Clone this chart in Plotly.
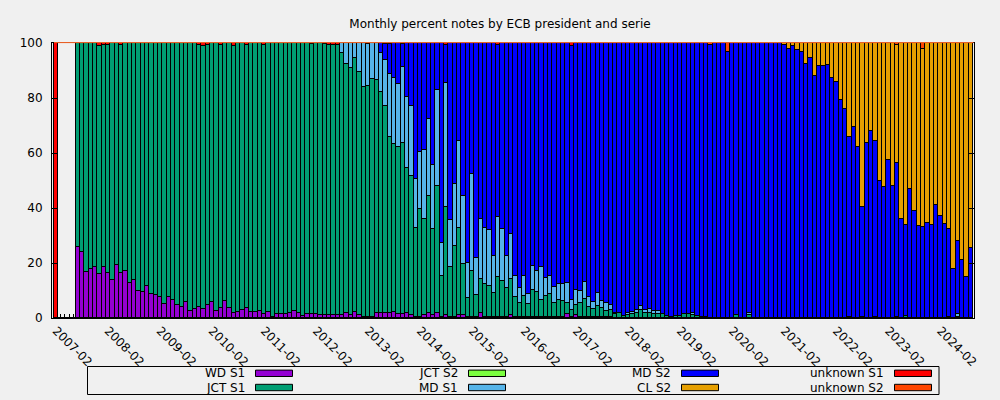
import plotly.graph_objects as go
import pandas as pd

# ---------------- data (one value per month, 2007-02 .. 2024-09) ----------------
MONTHS = list(pd.period_range("2007-02", periods=212, freq="M").strftime("%Y-%m"))
TICK_LABELS = [m if i % 12 == 0 else "" for i, m in enumerate(MONTHS)]

WD_S1 = [
    0, 0, 0, 0, 0, 25.9, 23.9, 16.6, 17.7, 18.7, 15.9, 18.4,
    16.2, 13.8, 19.2, 16.2, 17.0, 12.6, 13.8, 9.7, 9.3, 11.5, 8.6, 8.2,
    7.5, 5.0, 7.5, 6.4, 4.6, 3.9, 5.7, 2.4, 3.2, 3.9, 3.2, 4.6,
    5.7, 2.4, 3.5, 6.1, 3.5, 1.7, 2.1, 2.9, 3.5, 2.1, 2.1, 2.7,
    1.3, 2.1, 0.3, 1.5, 1.5, 1.5, 1.7, 2.7, 1.7, 0.7, 1.5, 1.5,
    1.5, 1.0, 1.0, 1.0, 1.0, 1.0, 1.0, 1.7, 1.0, 2.2, 1.0, 0.5,
    0.5, 0.5, 1.7, 1.9, 1.7, 1.7, 2.2, 1.5, 1.5, 1.7, 1.2, 0.2,
    0.5, 1.0, 1.7, 1.0, 1.7, 0.5, 1.0, 0.3, 0.3, 1.0, 1.0, 0.5,
    0.5, 0.2, 1.7, 0.2, 0.2, 0.2, 0.5, 0.5, 0.2, 1.0, 0.2, 0.3,
    0.2, 0.3, 0.3, 0.3, 0.2, 0.4, 0.3, 0.2, 0.3, 0.2, 1.3, 0.2,
    1.0, 0.2, 0.5, 0.2, 0.2, 0.2, 0.2, 0.2, 0.2, 0, 0, 0,
    0, 0, 0, 0, 0, 0, 0, 0, 0, 0, 0, 0,
    0, 0, 0, 0, 0, 0, 0, 0, 0, 0, 0, 0,
    0, 0, 0, 0, 0, 0, 0, 0, 0, 0, 0, 0,
    0, 0, 0, 0, 0, 0, 0, 0, 0, 0, 0, 0,
    0, 0, 0, 0, 0, 0, 0, 0, 0, 0, 0, 0,
    0, 0, 0, 0, 0, 0, 0, 0, 0, 0, 0, 0,
    0, 0, 0, 0, 0, 0, 0, 0,
]

JCT_S1 = [
    0, 0, 0, 0, 0, 74.1, 76.1, 83.4, 82.3, 81.3, 83.0, 80.9,
    83.1, 86.2, 80.8, 83.0, 83.0, 87.4, 86.2, 90.3, 90.7, 88.5, 91.4, 91.8,
    92.5, 95.0, 92.5, 93.6, 95.4, 96.1, 94.3, 97.6, 96.8, 95.3, 95.7, 94.7,
    94.3, 97.6, 95.7, 93.9, 96.5, 97.3, 97.9, 97.1, 95.8, 97.9, 97.9, 97.3,
    98.0, 97.9, 99.7, 98.5, 98.5, 98.5, 98.3, 97.3, 98.3, 99.3, 98.5, 98.0,
    98.5, 99.0, 98.6, 98.3, 98.4, 98.2, 95.2, 90.7, 89.8, 92.2, 88.3, 83.4,
    83.7, 86.3, 84.7, 80.3, 75.3, 64.1, 61.1, 60.7, 62.0, 52.7, 50.3, 32.4,
    39.0, 34.9, 42.5, 31.2, 46.2, 14.7, 39.2, 18.1, 25.8, 31.6, 18.5, 6.7,
    16.5, 8.0, 12.4, 12.0, 11.3, 8.8, 14.3, 12.8, 10.6, 13.1, 7.3, 5.0,
    7.7, 4.7, 9.8, 9.0, 6.2, 7.5, 8.3, 5.1, 6.1, 5.9, 4.0, 2.6,
    3.6, 5.1, 6.3, 3.7, 3.0, 4.0, 3.3, 2.2, 2.6, 1.5, 2.0, 0.7,
    1.1, 1.5, 1.7, 2.9, 1.9, 1.7, 1.5, 1.5, 1.5, 0.7, 0.5, 0.7,
    0.7, 1.5, 1.5, 1.1, 0.7, 0.5, 0.3, 0, 0, 0, 0, 0,
    0, 1.1, 0, 0, 1.1, 0, 0, 0, 0, 0, 0, 0,
    0, 0, 0, 0, 0, 0, 0, 0, 0, 0, 0, 0,
    0, 0, 0, 0.5, 0, 0, 0.5, 0, 0, 0.5, 0, 0,
    0, 0, 0.5, 0, 0.7, 0, 0, 0, 0, 0, 0, 0,
    0, 0, 0.5, 0, 0.3, 0, 0, 0,
]

JCT_S2 = [
    0, 0, 0, 0, 0, 0, 0, 0, 0, 0, 0, 0,
    0, 0, 0, 0, 0, 0, 0, 0, 0, 0, 0, 0,
    0, 0, 0, 0, 0, 0, 0, 0, 0, 0, 0, 0,
    0, 0, 0, 0, 0, 0, 0, 0, 0, 0, 0, 0,
    0, 0, 0, 0, 0, 0, 0, 0, 0, 0, 0, 0,
    0, 0, 0, 0, 0, 0, 0, 0, 0, 0, 0, 0,
    0, 0, 0, 0, 0, 0, 0, 0, 0, 0, 0, 0,
    0, 0, 0, 0, 0, 0, 0, 0, 0, 0, 0, 0,
    0, 0, 0, 0, 0, 0, 0, 0, 0, 0, 0, 0,
    0, 0, 0, 0, 0, 0, 0, 0, 0, 0, 0, 0,
    0, 0, 0, 0, 0, 0, 0, 0, 0, 0, 0, 0,
    0, 0, 0, 0, 0, 0, 0, 0, 0, 0, 0, 0,
    0, 0, 0, 0, 0, 0, 0, 0, 0, 0, 0, 0,
    0, 0, 0, 0, 0, 0, 0, 0, 0, 0, 0, 0,
    0, 0, 0, 0, 0, 0, 0, 0, 0, 0, 0, 0,
    0, 0, 0, 0, 0, 0, 0, 0, 0, 0, 0, 0,
    0, 0, 0, 0, 0, 0, 0, 0, 0, 0, 0, 0,
    0, 0, 0, 0, 0, 0, 0, 0,
]

MD_S1 = [
    0, 0, 0, 0, 0, 0, 0, 0, 0, 0, 0, 0,
    0, 0, 0, 0, 0, 0, 0, 0, 0, 0, 0, 0,
    0, 0, 0, 0, 0, 0, 0, 0, 0, 0, 0, 0,
    0, 0, 0, 0, 0, 0, 0, 0, 0, 0, 0, 0,
    0, 0, 0, 0, 0, 0, 0, 0, 0, 0, 0, 0,
    0, 0, 0, 0, 0, 0, 3.8, 7.6, 9.2, 5.6, 10.7, 16.1,
    15.5, 13.2, 13.6, 14.0, 16.7, 22.9, 24.0, 22.9, 27.9, 25.8, 25.5, 17.8,
    20.7, 25.1, 28.0, 23.3, 34.9, 12.0, 45.1, 17.2, 22.6, 31.6, 24.7, 12.7,
    35.4, 13.8, 21.8, 20.4, 20.4, 13.4, 21.8, 18.9, 11.6, 16.3, 7.7, 5.6,
    7.3, 3.6, 8.7, 7.7, 12.0, 6.6, 6.6, 5.9, 5.8, 6.1, 7.3, 3.6,
    5.5, 4.4, 6.2, 3.6, 2.5, 4.8, 2.6, 2.9, 1.8, 0.5, 0, 0,
    0.6, 0.6, 1.2, 1.5, 1.0, 1.5, 0.9, 0.9, 0, 0, 0, 0,
    0, 0, 0, 0.6, 0, 0, 0, 0, 0, 0, 0, 0,
    0, 0, 0, 0, 0.6, 0, 0, 0, 0, 0, 0, 0,
    0, 0, 0, 0, 0, 0, 0, 0, 0, 0, 0, 0,
    0, 0, 0, 0, 0, 0, 0, 0, 0, 0, 0, 0,
    0, 0, 0, 0, 0, 0, 0, 0, 0, 0, 0, 0,
    0, 0, 0, 0, 1.2, 0, 0, 0,
]

MD_S2 = [
    0, 0, 0, 0, 0, 0, 0, 0, 0, 0, 0, 0,
    0, 0, 0, 0, 0, 0, 0, 0, 0, 0, 0, 0,
    0, 0, 0, 0, 0, 0, 0, 0, 0, 0, 0, 0,
    0, 0, 0, 0, 0, 0, 0, 0, 0, 0, 0, 0,
    0, 0, 0, 0, 0, 0, 0, 0, 0, 0, 0, 0,
    0, 0, 0, 0, 0, 0, 0, 0, 0, 0, 0, 0,
    0, 0, 0, 3.8, 5.8, 10.8, 12.7, 14.9, 8.1, 19.8, 23.0, 49.6,
    39.8, 39.0, 27.8, 44.5, 17.2, 72.8, 14.0, 64.4, 51.3, 35.8, 55.8, 80.1,
    47.6, 78.0, 64.1, 67.4, 68.1, 77.6, 62.8, 67.8, 77.6, 69.6, 84.8, 89.1,
    84.8, 91.4, 81.2, 83.0, 81.6, 85.5, 84.8, 88.8, 87.8, 87.8, 87.4, 92.6,
    89.9, 90.3, 87.0, 92.5, 94.3, 91.0, 93.9, 94.7, 95.4, 98.0, 98.0, 99.3,
    98.3, 97.9, 97.1, 95.6, 97.1, 96.8, 97.6, 97.6, 98.5, 99.3, 99.5, 99.3,
    99.3, 98.5, 98.5, 98.3, 99.3, 99.5, 99.7, 99.3, 100, 100, 100, 96.6,
    100, 98.9, 100, 100, 98.3, 100, 100, 100, 100, 100, 100, 100,
    99.3, 97.8, 98.8, 97.3, 96.6, 92.2, 94.4, 87.9, 91.5, 91.5, 92.0, 87.2,
    85.7, 79.2, 75.9, 65.2, 69.3, 62.1, 39.7, 63.5, 67.9, 63.7, 49.7, 47.5,
    57.3, 47.9, 55.7, 35.9, 33.0, 46.8, 38.8, 33.3, 33.0, 34.4, 33.7, 41.0,
    37.0, 34.1, 31.7, 17.7, 26.4, 21.0, 14.8, 25.3,
]

CL_S2 = [
    0, 0, 0, 0, 0, 0, 0, 0, 0, 0, 0, 0,
    0, 0, 0, 0, 0, 0, 0, 0, 0, 0, 0, 0,
    0, 0, 0, 0, 0, 0, 0, 0, 0, 0, 0, 0,
    0, 0, 0, 0, 0, 0, 0, 0, 0, 0, 0, 0,
    0, 0, 0, 0, 0, 0, 0, 0, 0, 0, 0, 0,
    0, 0, 0, 0, 0, 0, 0, 0, 0, 0, 0, 0,
    0, 0, 0, 0, 0, 0, 0, 0, 0, 0, 0, 0,
    0, 0, 0, 0, 0, 0, 0, 0, 0, 0, 0, 0,
    0, 0, 0, 0, 0, 0, 0, 0, 0, 0, 0, 0,
    0, 0, 0, 0, 0, 0, 0, 0, 0, 0, 0, 0,
    0, 0, 0, 0, 0, 0, 0, 0, 0, 0, 0, 0,
    0, 0, 0, 0, 0, 0, 0, 0, 0, 0, 0, 0,
    0, 0, 0, 0, 0, 0, 0, 0, 0, 0, 0, 0,
    0, 0, 0, 0, 0, 0, 0, 0, 0, 0, 0, 0,
    0.7, 2.2, 1.2, 2.7, 3.4, 7.8, 5.6, 12.1, 8.5, 8.5, 8.0, 12.8,
    14.3, 20.8, 24.1, 34.3, 30.7, 37.9, 59.8, 36.5, 32.1, 35.8, 50.3, 52.5,
    42.7, 52.1, 43.1, 64.1, 66.3, 53.2, 61.2, 66.7, 64.8, 65.6, 66.3, 59.0,
    63.0, 65.9, 67.8, 82.3, 72.1, 79.0, 85.2, 74.7,
]

UNKNOWN_S1 = [
    100, 0, 0, 0, 0, 0, 0, 0, 0, 0, 1.1, 0.7,
    0.7, 0, 0, 0.8, 0, 0, 0, 0, 0, 0, 0, 0,
    0, 0, 0, 0, 0, 0, 0, 0, 0, 0.8, 1.1, 0.7,
    0, 0, 0.8, 0, 0, 1.0, 0, 0, 0.7, 0, 0, 0,
    0.7, 0, 0, 0, 0, 0, 0, 0, 0, 0, 0, 0.5,
    0, 0, 0.4, 0.7, 0.6, 0.8, 0, 0, 0, 0, 0, 0,
    0.3, 0, 0, 0, 0.5, 0.5, 0, 0, 0.5, 0, 0, 0,
    0, 0, 0, 0, 0, 0, 0.7, 0, 0, 0, 0, 0,
    0, 0, 0, 0, 0, 0, 0.6, 0, 0, 0, 0, 0,
    0, 0, 0, 0, 0, 0, 0, 0, 0, 0, 0, 1.0,
    0, 0, 0, 0, 0, 0, 0, 0, 0, 0, 0, 0,
    0, 0, 0, 0, 0, 0, 0, 0, 0, 0, 0, 0,
    0, 0, 0, 0, 0, 0, 0, 0, 0, 0, 0, 0,
    0, 0, 0, 0, 0, 0, 0, 0, 0, 0, 0, 0,
    0, 0, 0, 0, 0, 0, 0, 0, 0, 0, 0, 0,
    0, 0, 0, 0, 0, 0, 0, 0, 0, 0, 0, 0,
    0, 0, 0, 0, 0, 0, 0, 0, 0, 0, 0, 0,
    0, 0, 0, 0, 0, 0, 0, 0,
]

UNKNOWN_S2 = [
    0, 0, 0, 0, 0, 0, 0, 0, 0, 0, 0, 0,
    0, 0, 0, 0, 0, 0, 0, 0, 0, 0, 0, 0,
    0, 0, 0, 0, 0, 0, 0, 0, 0, 0, 0, 0,
    0, 0, 0, 0, 0, 0, 0, 0, 0, 0, 0, 0,
    0, 0, 0, 0, 0, 0, 0, 0, 0, 0, 0, 0,
    0, 0, 0, 0, 0, 0, 0, 0, 0, 0, 0, 0,
    0, 0, 0, 0, 0, 0, 0, 0, 0, 0, 0, 0,
    0, 0, 0, 0, 0, 0, 0, 0, 0, 0, 0, 0,
    0, 0, 0, 0, 0, 0, 0, 0, 0, 0, 0, 0,
    0, 0, 0, 0, 0, 0, 0, 0, 0, 0, 0, 0,
    0, 0, 0, 0, 0, 0, 0, 0, 0, 0, 0, 0,
    0, 0, 0, 0, 0, 0, 0, 0, 0, 0, 0, 0,
    0, 0, 0, 0, 0, 0, 0, 0.7, 0, 0, 0, 3.4,
    0, 0, 0, 0, 0, 0, 0, 0, 0, 0, 0, 0,
    0, 0, 0, 0, 0, 0, 0, 0, 0, 0, 0, 0,
    0, 0, 0, 0, 0, 0, 0, 0, 0, 0, 0, 0,
    0, 0, 0.7, 0, 0, 0, 0, 0, 2.2, 0, 0, 0,
    0, 0, 0, 0, 0, 0, 0, 0,
]

SERIES_NAMES = ["WD S1", "JCT S1", "JCT S2", "MD S1", "MD S2", "CL S2", "unknown S1", "unknown S2"]
SERIES_VALUES = [WD_S1, JCT_S1, JCT_S2, MD_S1, MD_S2, CL_S2, UNKNOWN_S1, UNKNOWN_S2]
SERIES_COLORS = ["#9400d3", "#009e73", "#7cff40", "#56b4e9", "#0000ff", "#e69f00", "#ff0000", "#ff4500"]

# ---------------- layout constants (pixels) ----------------
W, H = 1000, 400
L, R, T, B = 52, 26, 43, 82
PW, PH = W - L - R, H - T - B
FONT = "DejaVu Sans"
BG = "#f0f0f0"


def px(x):
    return (x - L) / PW


def py(y):
    return (H - B - y) / PH


fig = go.Figure()
for name, vals, col in zip(SERIES_NAMES, SERIES_VALUES, SERIES_COLORS):
    fig.add_trace(go.Bar(
        x=MONTHS, y=vals, name=name, showlegend=False,
        marker=dict(color=col, line=dict(color="black", width=1)),
    ))

# custom gnuplot-like key: text right-aligned, swatch to the right, filled column-wise
shapes = [dict(type="rect", xref="paper", yref="paper",
               x0=px(87.5), x1=px(939), y0=py(394.5), y1=py(366.5),
               line=dict(color="black", width=1), fillcolor="rgba(0,0,0,0)")]
annotations = []
col_text_right = [247, 459.5, 672.5, 885.5]
col_sw_left = [255.5, 468.5, 681.5, 894.5]
row_y = [373.3, 387.5]
for i, (name, col) in enumerate(zip(SERIES_NAMES, SERIES_COLORS)):
    c, r = divmod(i, 2)
    yc = row_y[r]
    shapes.append(dict(type="rect", xref="paper", yref="paper",
                       x0=px(col_sw_left[c]), x1=px(col_sw_left[c] + 37),
                       y0=py(yc + 3.2), y1=py(yc - 3.2),
                       line=dict(color="black", width=1), fillcolor=col))
    annotations.append(dict(xref="paper", yref="paper", x=px(col_text_right[c]), y=py(yc),
                            text=name, showarrow=False, xanchor="right", yanchor="middle",
                            font=dict(family=FONT, size=12, color="black")))

# thin orange-red line along the top of the stacks
shapes.append(dict(type="line", xref="paper", yref="paper", x0=px(54), x1=px(973.5),
                   y0=py(42.6), y1=py(42.6), line=dict(color="#ff6a2a", width=1)))

fig.update_layout(
    width=W, height=H,
    margin=dict(l=L, r=R, t=T, b=B, pad=0),
    paper_bgcolor=BG, plot_bgcolor=BG,
    barmode="stack", bargap=0,
    font=dict(family=FONT, size=12, color="black"),
    title=dict(text="Monthly percent notes by ECB president and serie",
               x=px(513), xanchor="center", y=1 - 24 / H, yanchor="middle",
               font=dict(family=FONT, size=12, color="black")),
    xaxis=dict(
        type="category", categoryorder="array", categoryarray=MONTHS,
        range=[-0.93, 211.75],
        tickmode="array", tickvals=MONTHS, ticktext=TICK_LABELS,
        tickangle=45, ticks="inside", ticklen=4, tickcolor="black",
        showline=True, linecolor="black", linewidth=1, mirror=True,
        showgrid=False, zeroline=False, layer="below traces",
        tickfont=dict(family=FONT, size=12, color="black"),
    ),
    yaxis=dict(
        range=[0, 100], tickvals=[0, 20, 40, 60, 80, 100],
        ticks="inside", ticklen=5, tickcolor="black",
        showline=True, linecolor="black", linewidth=1, mirror="ticks",
        showgrid=False, zeroline=False, ticklabelstandoff=6,
        tickfont=dict(family=FONT, size=12, color="black"),
    ),
    shapes=shapes,
    annotations=annotations,
)

fig.write_html("out.html")
